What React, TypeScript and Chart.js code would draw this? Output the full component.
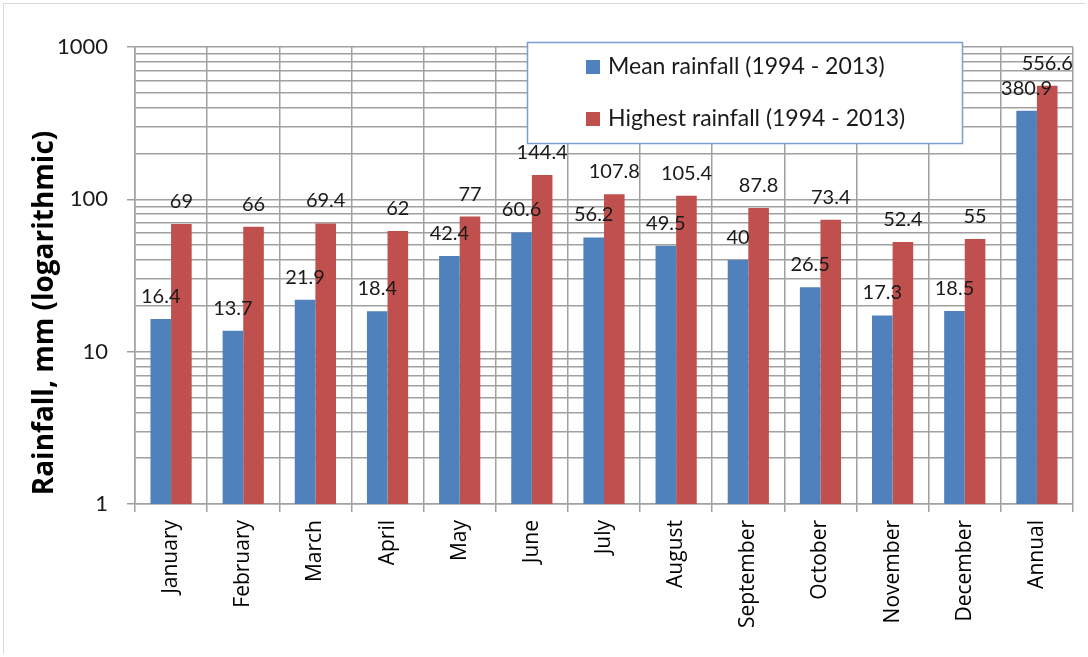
import React, { useEffect, useRef } from 'react';
import { Chart, registerables } from 'chart.js';

Chart.register(...registerables);

const categories = [
  'January', 'February', 'March', 'April', 'May', 'June', 'July',
  'August', 'September', 'October', 'November', 'December', 'Annual',
];
const meanRainfall = [16.4, 13.7, 21.9, 18.4, 42.4, 60.6, 56.2, 49.5, 40, 26.5, 17.3, 18.5, 380.9];
const highestRainfall = [69, 66, 69.4, 62, 77, 144.4, 107.8, 105.4, 87.8, 73.4, 52.4, 55, 556.6];
const seriesLabels = ['Mean rainfall (1994 - 2013)', 'Highest rainfall (1994 - 2013)'];
const seriesColors = ['#4F81BD', '#C0504D'];
const yTickValues = [
  1, 2, 3, 4, 5, 6, 7, 8, 9,
  10, 20, 30, 40, 50, 60, 70, 80, 90,
  100, 200, 300, 400, 500, 600, 700, 800, 900,
  1000,
];
const yMajorTicks = [1, 10, 100, 1000];
const yAxisTitle = 'Rainfall, mm (logarithmic)';

const FONT = 'Lato, "Open Sans", sans-serif';
const WIDE_FONT = '"Open Sans", Lato, sans-serif';
const GRID = '#a0a0a0';

const valueLabelsPlugin = {
  id: 'valueLabels',
  afterDatasetsDraw(chart: any) {
    const ctx = chart.ctx;
    ctx.save();
    ctx.font = `20px ${FONT}`;
    ctx.fillStyle = '#1a1a1a';
    ctx.textAlign = 'center';
    ctx.textBaseline = 'alphabetic';
    chart.data.datasets.forEach((ds: any, i: number) => {
      const meta = chart.getDatasetMeta(i);
      meta.data.forEach((bar: any, j: number) => {
        ctx.fillText(String(ds.data[j]), bar.x, bar.y - 16);
      });
    });
    ctx.restore();
  },
};

const legendBoxPlugin = {
  id: 'legendBox',
  afterDraw(chart: any) {
    const ctx = chart.ctx;
    ctx.save();
    const bx = 527.5, by = 42.5, bw = 435, bh = 101;
    ctx.fillStyle = '#ffffff';
    ctx.fillRect(bx, by, bw, bh);
    ctx.strokeStyle = '#7a9fcf';
    ctx.lineWidth = 1.5;
    ctx.strokeRect(bx, by, bw, bh);
    ctx.font = `23px ${FONT}`;
    ctx.textBaseline = 'middle';
    ctx.textAlign = 'left';
    chart.data.datasets.forEach((ds: any, i: number) => {
      const cy = 67 + i * 52;
      ctx.fillStyle = ds.backgroundColor;
      ctx.fillRect(586, cy - 7, 14, 14);
      ctx.fillStyle = '#1a1a1a';
      ctx.fillText(ds.label, 608, cy);
    });
    ctx.restore();
  },
};

const yTitlePlugin = {
  id: 'yTitle',
  afterDraw(chart: any) {
    const ctx = chart.ctx;
    ctx.save();
    ctx.translate(45, 313);
    ctx.rotate(-Math.PI / 2);
    ctx.font = `bold 28px ${WIDE_FONT}`;
    ctx.fillStyle = '#000000';
    ctx.textAlign = 'center';
    ctx.textBaseline = 'middle';
    ctx.fillText(yAxisTitle, 0, 0);
    ctx.restore();
  },
};

export default function App() {
  const canvasRef = useRef<HTMLCanvasElement | null>(null);

  useEffect(() => {
    if (!canvasRef.current) return;
    const chart = new Chart(canvasRef.current, {
      type: 'bar',
      data: {
        labels: categories,
        datasets: [
          { label: seriesLabels[0], data: meanRainfall, backgroundColor: seriesColors[0], categoryPercentage: 0.571, barPercentage: 1 },
          { label: seriesLabels[1], data: highestRainfall, backgroundColor: seriesColors[1], categoryPercentage: 0.571, barPercentage: 1 },
        ],
      },
      options: {
        animation: false,
        responsive: false,
        maintainAspectRatio: false,
        layout: { padding: { left: 0, right: 15, top: 47, bottom: 0 } },
        plugins: {
          legend: { display: false },
          tooltip: { enabled: false },
          title: { display: false },
        },
        scales: {
          x: {
            grid: {
              display: true,
              offset: true,
              color: GRID,
              lineWidth: 1.5,
              tickLength: 8,
              tickColor: GRID,
            },
            border: { display: true, color: GRID, width: 1.5 },
            ticks: {
              maxRotation: 90,
              minRotation: 90,
              autoSkip: false,
              padding: 8,
              color: '#000000',
              font: { family: WIDE_FONT, size: 21 },
            },
            afterFit(scale: any) {
              scale.height = 657 - 504;
            },
          },
          y: {
            type: 'logarithmic',
            min: 1,
            max: 1000,
            grid: {
              color: GRID,
              lineWidth: 1.5,
              tickLength: 8,
              tickColor: (c: any) => (c.tick && yMajorTicks.includes(c.tick.value) ? GRID : 'rgba(0,0,0,0)'),
            },
            border: { display: true, color: GRID, width: 1.5 },
            afterBuildTicks(scale: any) {
              scale.ticks = yTickValues.map((v) => ({ value: v, major: yMajorTicks.includes(v) }));
            },
            ticks: {
              autoSkip: false,
              padding: 19,
              color: '#1a1a1a',
              font: { family: FONT, size: 22 },
              callback: (value: any) => (yMajorTicks.includes(Number(value)) ? String(value) : ''),
            },
            afterFit(scale: any) {
              scale.width = 135;
            },
          },
        },
      },
      plugins: [valueLabelsPlugin, legendBoxPlugin, yTitlePlugin],
    });
    return () => chart.destroy();
  }, []);

  return (
    <div style={{ position: 'fixed', left: 0, top: 0, width: 1088, height: 657, background: '#ffffff' }}>
      <div
        style={{
          position: 'absolute', left: 3, top: 3, width: 1082, height: 651,
          borderLeft: '1px solid #d9d9d9', borderTop: '1px solid #d9d9d9',
          boxSizing: 'border-box', pointerEvents: 'none',
        }}
      />
      <canvas ref={canvasRef} width={1088} height={657} style={{ position: 'absolute', left: 0, top: 0 }} />
    </div>
  );
}
